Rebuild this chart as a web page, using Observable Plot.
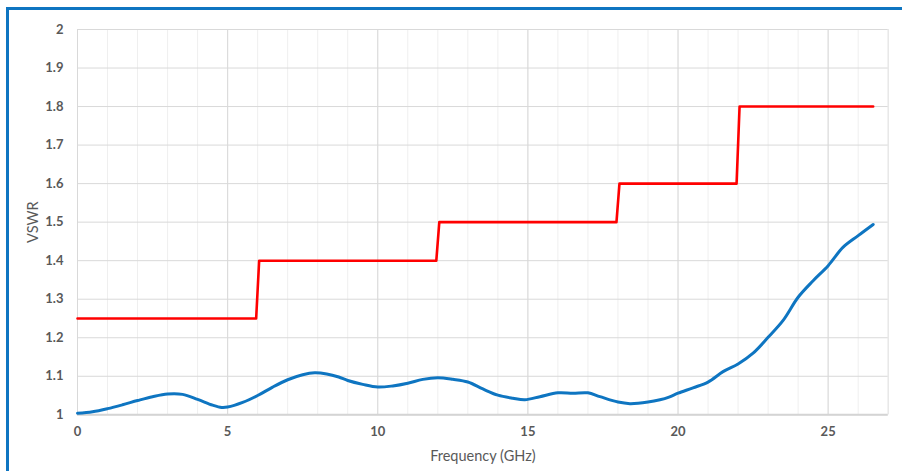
<!DOCTYPE html>
<html>
<head>
<meta charset="utf-8">
<script src="https://cdn.jsdelivr.net/npm/d3@7"></script>
<script src="https://cdn.jsdelivr.net/npm/@observablehq/plot@0.6"></script>
<style>
  html, body { margin: 0; padding: 0; background: #fff; }
  #wrap { position: relative; width: 902px; height: 471px; overflow: hidden; font-family: Lato, "Open Sans", sans-serif; }
  #frame { position: absolute; left: 6px; top: 7px; right: -10px; bottom: -10px; border-left: 3px solid #0e75c1; border-top: 3px solid #0e75c1; pointer-events: none; }
  #chart { position: absolute; left: 0; top: 0; }
</style>
</head>
<body>
<div id="wrap"><div id="chart"></div><div id="frame"></div></div>
<script>
// Measured VSWR (blue)
const freqBlue = [0,0.5,1,1.5,2,2.5,3,3.5,4,4.5,4.8,5,5.5,6,6.5,7,7.5,7.9,8.3,8.7,9,9.5,10,10.5,11,11.5,12,12.5,13,13.5,14,14.5,14.9,15.4,16,16.5,17,17.4,18,18.4,19,19.4,19.7,20,20.5,21,21.5,22,22.5,23,23.5,24,24.5,25,25.5,26,26.5];
const vswrBlue = [1.004,1.008,1.016,1.026,1.037,1.047,1.054,1.053,1.040,1.025,1.019,1.020,1.032,1.050,1.072,1.091,1.104,1.109,1.106,1.098,1.089,1.079,1.072,1.075,1.082,1.092,1.096,1.092,1.085,1.067,1.051,1.043,1.039,1.047,1.057,1.056,1.057,1.047,1.033,1.029,1.033,1.039,1.046,1.056,1.070,1.085,1.112,1.132,1.160,1.201,1.245,1.305,1.348,1.387,1.435,1.465,1.494];
// Specification limit (red step)
const freqLimit = [0,5.95,6.05,11.95,12.05,17.95,18.05,21.95,22.05,26.5];
const vswrLimit = [1.25,1.25,1.4,1.4,1.5,1.5,1.6,1.6,1.8,1.8];
// Axis ticks
const xTicks = [0,5,10,15,20,25];
const xMinor = d3.range(0,28,1);
const yTicks = [1,1.1,1.2,1.3,1.4,1.5,1.6,1.7,1.8,1.9,2];
const yTickLabels = ["1","1.1","1.2","1.3","1.4","1.5","1.6","1.7","1.8","1.9","2"];

const blue = freqBlue.map((f,i)=>({f, v: vswrBlue[i]}));
const limit = freqLimit.map((f,i)=>({f, v: vswrLimit[i]}));

const chart = Plot.plot({
  width: 902,
  height: 471,
  marginLeft: 77,
  marginRight: 14.3,
  marginTop: 29,
  marginBottom: 56.7,
  style: {fontFamily: "Lato, 'Open Sans', sans-serif", background: "transparent"},
  x: {domain: [0,27]},
  y: {domain: [1,2]},
  marks: [
    Plot.gridX(xMinor, {stroke: "#efefef", strokeOpacity: 1, strokeWidth: 1}),
    Plot.gridX(xTicks, {stroke: "#d9d9d9", strokeOpacity: 1, strokeWidth: 1}),
    Plot.gridX([27], {stroke: "#e3e3e3", strokeOpacity: 1, strokeWidth: 1}),
    Plot.gridY(yTicks, {stroke: "#d9d9d9", strokeOpacity: 1, strokeWidth: 1}),
    Plot.ruleY([1], {stroke: "#d4d4d4", strokeWidth: 2}),
    Plot.axisX({ticks: xTicks, tickSize: 0, tickPadding: 12, fontSize: 13, fontWeight: "bold", fill: "#595959",
      label: "Frequency (GHz)", labelAnchor: "center", labelArrow: "none", labelOffset: 46}),
    Plot.axisY({ticks: yTicks, tickFormat: (d,i)=>yTickLabels[i], tickSize: 0, tickPadding: 14, fontSize: 13, fontWeight: "bold", fill: "#595959",
      label: "VSWR", labelAnchor: "center", labelArrow: "none", labelOffset: 50}),
    Plot.line(limit, {x: "f", y: "v", stroke: "#ff0000", strokeWidth: 2.6}),
    Plot.line(blue, {x: "f", y: "v", stroke: "#0e75c1", strokeWidth: 3, curve: "catmull-rom"})
  ]
});
document.getElementById("chart").appendChild(chart);
// axis title styling
d3.select(chart).selectAll("g[aria-label='x-axis label'] text, g[aria-label='y-axis label'] text")
  .attr("font-weight", "normal").attr("fill", "#595959").attr("font-size", 14.5);
</script>
</body>
</html>
